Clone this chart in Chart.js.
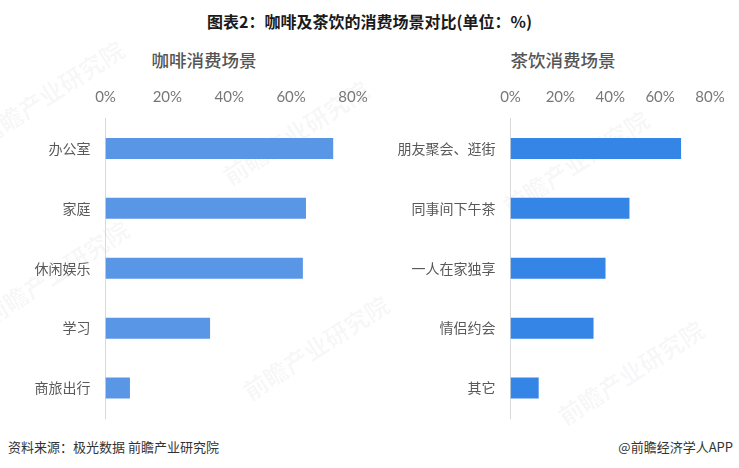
<!DOCTYPE html>
<html>
<head>
<meta charset="utf-8">
<script src="https://cdn.jsdelivr.net/npm/chart.js@4/dist/chart.umd.min.js"></script>
<style>
  html, body { margin: 0; padding: 0; background: #fff; }
  body { width: 739px; height: 468px; position: relative; overflow: hidden;
         font-family: "Noto Sans CJK SC", "Noto Sans", sans-serif; }
  .abs { position: absolute; white-space: nowrap; }
  #title { left: 0; width: 739px; top: 9px; text-align: center; font-size: 16px; font-weight: bold; color: #1a1a1a; }
  .sub { top: 47px; font-size: 17.5px; font-weight: 500; color: #555; text-align: center; width: 200px; }
  .foot { top: 437px; font-size: 13px; color: #333; }
  .wm { color: rgba(0,0,0,0.04); font-size: 24px; font-weight: bold; transform-origin: left center; transform: rotate(-33deg); }
  canvas { position: absolute; }
</style>
</head>
<body>
<div class="abs wm" style="left:-20px;top:120px;">前瞻产业研究院</div>
<div class="abs wm" style="left:225px;top:160px;">前瞻产业研究院</div>
<div class="abs wm" style="left:-15px;top:300px;">前瞻产业研究院</div>
<div class="abs wm" style="left:245px;top:375px;">前瞻产业研究院</div>
<div class="abs wm" style="left:505px;top:190px;">前瞻产业研究院</div>
<div class="abs wm" style="left:560px;top:400px;">前瞻产业研究院</div>

<div id="title" class="abs">图表2：咖啡及茶饮的消费场景对比(单位：%)</div>
<div class="abs sub" style="left:104px;">咖啡消费场景</div>
<div class="abs sub" style="left:463px;">茶饮消费场景</div>

<canvas id="coffeeChart" width="370" height="340" style="left:0;top:80px;width:370px;height:340px;"></canvas>
<canvas id="teaChart" width="369" height="340" style="left:370px;top:80px;width:369px;height:340px;"></canvas>

<div class="abs foot" style="left:8px;">资料来源：极光数据 前瞻产业研究院</div>
<div class="abs foot" style="right:6px;">@前瞻经济学人APP</div>

<script>
const coffeeLabels = ["办公室", "家庭", "休闲娱乐", "学习", "商旅出行"];
const coffeeValues = [73.6, 64.8, 63.8, 33.8, 7.9];
const teaLabels = ["朋友聚会、逛街", "同事间下午茶", "一人在家独享", "情侣约会", "其它"];
const teaValues = [68.4, 47.7, 38.1, 33.3, 11.3];
const axisTicks = [0, 20, 40, 60, 80];

function makeChart(canvas, labels, values, color, axisWidth, padRight) {
  return new Chart(canvas, {
    type: "bar",
    data: {
      labels: labels,
      datasets: [{
        data: values,
        backgroundColor: color,
        barPercentage: 0.35,
        categoryPercentage: 1,
      }],
    },
    options: {
      indexAxis: "y",
      responsive: false,
      animation: false,
      layout: { padding: { left: 0, right: padRight, top: 0, bottom: 2 } },
      plugins: { legend: { display: false }, tooltip: { enabled: false } },
      scales: {
        x: {
          position: "top",
          min: axisTicks[0],
          max: axisTicks[axisTicks.length - 1],
          afterBuildTicks: (scale) => {
            scale.ticks = axisTicks.map((v) => ({ value: v }));
          },
          afterFit: (scale) => {
            scale.height = 38.5;
            scale.paddingLeft = 0;
            scale.paddingRight = 0;
          },
          grid: { display: false, drawTicks: false },
          border: { display: false },
          ticks: {
            padding: 12,
            color: "#777",
            font: { family: "Lato", size: 15 },
            callback: (v) => v + "%",
          },
        },
        y: {
          afterFit: (scale) => {
            scale.width = axisWidth;
            scale.paddingTop = 0;
            scale.paddingBottom = 0;
          },
          grid: { display: false, drawTicks: false },
          border: { display: true, color: "#d9d9d9", width: 1 },
          ticks: {
            padding: 15,
            color: "#595959",
            font: { family: "Noto Sans CJK SC", size: 14 },
          },
        },
      },
    },
  });
}

makeChart(document.getElementById("coffeeChart"), coffeeLabels, coffeeValues, "#5a96e6", 105.5, 17);
makeChart(document.getElementById("teaChart"), teaLabels, teaValues, "#3585e6", 140.5, 29);
</script>
</body>
</html>
